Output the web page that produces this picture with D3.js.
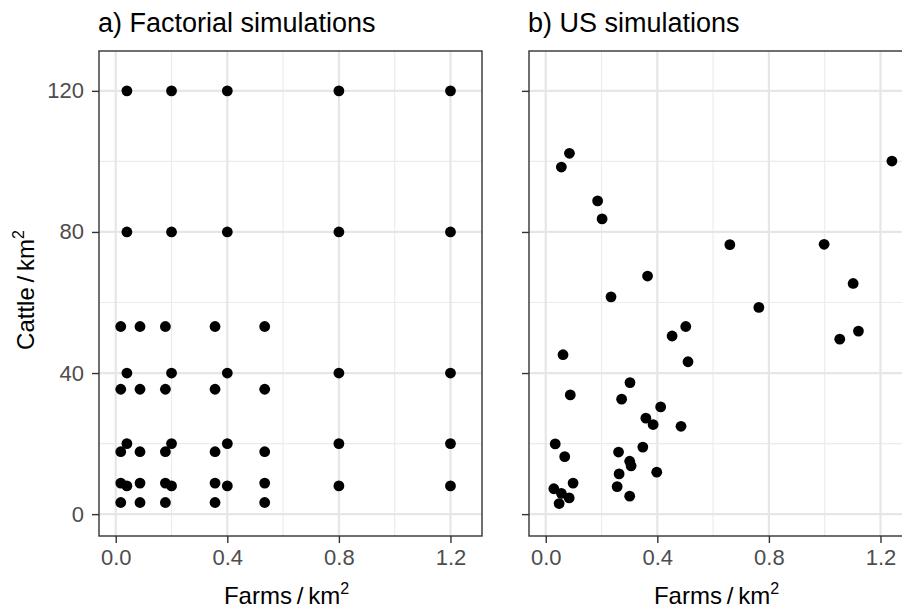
<!DOCTYPE html>
<html>
<head>
<meta charset="utf-8">
<script src="https://cdn.jsdelivr.net/npm/d3@7"></script>
<style>
  html, body { margin: 0; padding: 0; background: #fff; }
  svg { display: block; font-family: "Liberation Sans", Arial, sans-serif; }
</style>
</head>
<body>
<svg id="chart" width="902" height="609"></svg>
<script>
// ---- Data ----
const panelTitles = ["a) Factorial simulations", "b) US simulations"];
const xTicks = [0.0, 0.4, 0.8, 1.2];
const yTicks = [0, 40, 80, 120];
const xMinor = [0.2, 0.6, 1.0];
const yMinor = [20, 60, 100];

// a) factorial design points (farms/km2, cattle/km2)
const factX = [
  0.018, 0.018, 0.018, 0.018, 0.018,
  0.087, 0.087, 0.087, 0.087, 0.087,
  0.178, 0.178, 0.178, 0.178, 0.178,
  0.356, 0.356, 0.356, 0.356, 0.356,
  0.534, 0.534, 0.534, 0.534, 0.534,
  0.04, 0.04, 0.04, 0.04, 0.04,
  0.2, 0.2, 0.2, 0.2, 0.2,
  0.4, 0.4, 0.4, 0.4, 0.4,
  0.8, 0.8, 0.8, 0.8, 0.8,
  1.2, 1.2, 1.2, 1.2, 1.2
];
const factY = [
  3.3, 8.8, 17.7, 35.4, 53.2,
  3.3, 8.8, 17.7, 35.4, 53.2,
  3.3, 8.8, 17.7, 35.4, 53.2,
  3.3, 8.8, 17.7, 35.4, 53.2,
  3.3, 8.8, 17.7, 35.4, 53.2,
  8, 20, 40, 80, 120,
  8, 20, 40, 80, 120,
  8, 20, 40, 80, 120,
  8, 20, 40, 80, 120,
  8, 20, 40, 80, 120
];

// b) US simulation points
const usX = [
  0.085, 0.056, 0.186, 0.202, 0.660, 0.998, 1.241, 0.365, 0.234, 0.764,
  1.102, 0.453, 0.502, 1.054, 1.121, 0.062, 0.510, 0.302, 0.088, 0.272,
  0.412, 0.359, 0.385, 0.485, 0.034, 0.348, 0.261, 0.068, 0.301, 0.306,
  0.263, 0.398, 0.098, 0.029, 0.056, 0.084, 0.048, 0.256, 0.301
];
const usY = [
  102.3, 98.4, 88.8, 83.7, 76.4, 76.5, 100.1, 67.5, 61.6, 58.6,
  65.4, 50.5, 53.2, 49.6, 51.9, 45.2, 43.2, 37.3, 33.8, 32.6,
  30.4, 27.2, 25.4, 24.9, 19.9, 19.0, 17.6, 16.3, 15.0, 13.7,
  11.4, 11.9, 8.8, 7.2, 5.9, 4.6, 3.0, 7.8, 5.1
];

// ---- Layout ----
const svg = d3.select("#chart");
svg.append("rect").attr("width", 902).attr("height", 609).attr("fill", "#fff");

const pTop = 51, pBottom = 536;
const panels = [
  { left: 99, right: 482, xs: factX, ys: factY, title: panelTitles[0], yLabels: true },
  { left: 529, right: 912, xs: usX, ys: usY, title: panelTitles[1], yLabels: false }
];
const xDomain = [-0.06, 1.313];
const yDomain = [-6.2, 131.3];
const y = d3.scaleLinear().domain(yDomain).range([pBottom, pTop]);

panels.forEach((p, i) => {
  const x = d3.scaleLinear().domain(xDomain).range([p.left, p.right]);
  const g = svg.append("g");

  g.append("rect").attr("x", p.left).attr("y", pTop)
    .attr("width", p.right - p.left).attr("height", pBottom - pTop).attr("fill", "#fff");

  // minor grid
  g.selectAll(".vminor").data(xMinor).join("line").attr("class", "vminor")
    .attr("x1", d => x(d)).attr("x2", d => x(d)).attr("y1", pTop).attr("y2", pBottom)
    .attr("stroke", "#ebebeb").attr("stroke-width", 1.1);
  g.selectAll(".hminor").data(yMinor).join("line").attr("class", "hminor")
    .attr("y1", d => y(d)).attr("y2", d => y(d)).attr("x1", p.left).attr("x2", p.right)
    .attr("stroke", "#ebebeb").attr("stroke-width", 1.1);
  // major grid
  g.selectAll(".vmajor").data(xTicks).join("line").attr("class", "vmajor")
    .attr("x1", d => x(d)).attr("x2", d => x(d)).attr("y1", pTop).attr("y2", pBottom)
    .attr("stroke", "#e6e6e6").attr("stroke-width", 2.2);
  g.selectAll(".hmajor").data(yTicks).join("line").attr("class", "hmajor")
    .attr("y1", d => y(d)).attr("y2", d => y(d)).attr("x1", p.left).attr("x2", p.right)
    .attr("stroke", "#e6e6e6").attr("stroke-width", 2.2);

  // points
  g.selectAll("circle").data(p.xs.map((v, k) => [v, p.ys[k]])).join("circle")
    .attr("cx", d => x(d[0])).attr("cy", d => y(d[1])).attr("r", 5.4).attr("fill", "#000");

  // panel border
  g.append("rect").attr("x", p.left).attr("y", pTop)
    .attr("width", p.right - p.left).attr("height", pBottom - pTop)
    .attr("fill", "none").attr("stroke", "#333").attr("stroke-width", 1.4);

  // x axis
  const xAxis = svg.append("g").attr("transform", `translate(0,${pBottom})`)
    .call(d3.axisBottom(x).tickValues(xTicks).tickFormat(d3.format(".1f")).tickSize(7).tickPadding(6));
  xAxis.select(".domain").remove();
  xAxis.selectAll(".tick line").attr("stroke", "#333").attr("stroke-width", 1.4);
  xAxis.selectAll(".tick text").attr("fill", "#4d4d4d").style("font-size", "22px")
    .style("font-family", "Liberation Sans, Arial, sans-serif");

  // y axis
  const yAxis = svg.append("g").attr("transform", `translate(${p.left},0)`)
    .call(d3.axisLeft(y).tickValues(yTicks).tickSize(7).tickPadding(8)
      .tickFormat(p.yLabels ? d3.format("d") : () => ""));
  yAxis.select(".domain").remove();
  yAxis.selectAll(".tick line").attr("stroke", "#333").attr("stroke-width", 1.4);
  yAxis.selectAll(".tick text").attr("fill", "#4d4d4d").style("font-size", "22px")
    .style("font-family", "Liberation Sans, Arial, sans-serif");

  // panel title
  svg.append("text").attr("x", p.left - 1).attr("y", 32)
    .attr("fill", "#000").style("font-size", "27px").text(p.title);

  // x axis title
  const xt = svg.append("text").attr("x", (p.left + p.right) / 2 - 4).attr("y", 604)
    .attr("text-anchor", "middle").attr("fill", "#000").style("font-size", "24px");
  xt.append("tspan").text("Farms\u2009/\u2009km");
  xt.append("tspan").attr("dy", -10).style("font-size", "16px").text("2");
});

// y axis title
const yt = svg.append("text")
  .attr("transform", "translate(34,290) rotate(-90)")
  .attr("text-anchor", "middle").attr("fill", "#000").style("font-size", "24px");
yt.append("tspan").text("Cattle\u2009/\u2009km");
yt.append("tspan").attr("dy", -10).style("font-size", "16px").text("2");
</script>
</body>
</html>
